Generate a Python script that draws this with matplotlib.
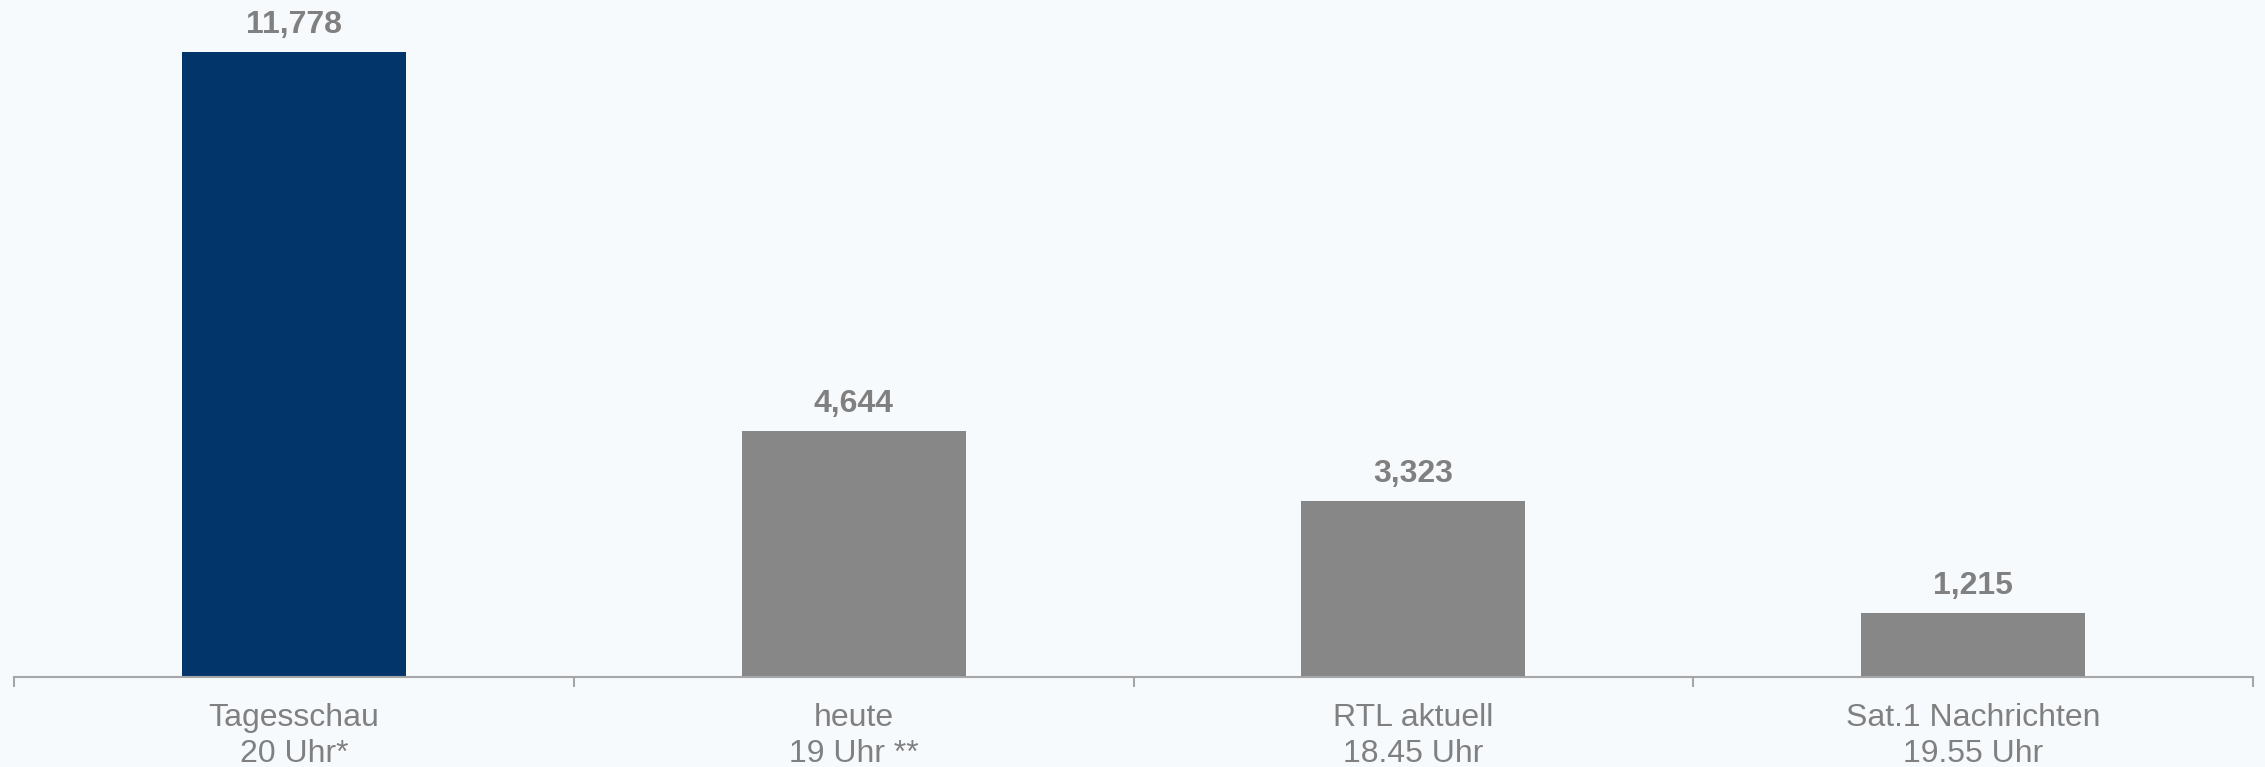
import matplotlib.pyplot as plt
import numpy as np


CATEGORIES = ['Tagesschau\n20 Uhr*', 'heute\n19 Uhr **', 'RTL aktuell\n18.45 Uhr', 'Sat.1 Nachrichten\n19.55 Uhr']
VALUES = [11.778, 4.644, 3.323, 1.215]
VALUE_LABELS = ['11,778', '4,644', '3,323', '1,215']
BAR_COLORS = ['#02366b', '#878787', '#878787', '#878787']

BG = '#f7fafd'
TEXT = '#808080'
AXIS = '#a6a6a6'


def main():
    plt.rcParams['font.family'] = ['Liberation Sans', 'DejaVu Sans']

    fig = plt.figure(figsize=(22.65, 7.67), dpi=100, facecolor=BG)
    ax = fig.add_axes([14 / 2265, 1 - 677 / 767, (2253 - 14) / 2265, 677 / 767])
    ax.set_facecolor(BG)

    x = np.arange(len(CATEGORIES))
    ax.bar(x, VALUES, width=0.4, color=BAR_COLORS, zorder=2)

    for xi, val, lab in zip(x, VALUES, VALUE_LABELS):
        ax.annotate(lab, (xi, val), xytext=(0, 8.5), textcoords='offset points',
                    ha='center', va='bottom', fontsize=23, fontweight='bold', color=TEXT)

    ax.set_xlim(-0.5, len(CATEGORIES) - 0.5)
    ax.set_ylim(0, VALUES[0] * 677 / 625)

    for side in ['top', 'right', 'left']:
        ax.spines[side].set_visible(False)
    ax.spines['bottom'].set_color(AXIS)
    ax.spines['bottom'].set_linewidth(1.5)
    ax.spines['bottom'].set_zorder(3)

    ax.set_yticks([])
    ax.set_xticks(x)
    ax.set_xticklabels(CATEGORIES, fontsize=23, color=TEXT, linespacing=1.27)
    ax.tick_params(axis='x', which='major', length=0, pad=18.5)
    ax.set_xticks(np.arange(-0.5, len(CATEGORIES)), minor=True)
    ax.tick_params(axis='x', which='minor', length=7, width=1.5, color=AXIS, direction='out')

    fig.savefig('out.png', dpi=100, facecolor=BG)


if __name__ == '__main__':
    main()
